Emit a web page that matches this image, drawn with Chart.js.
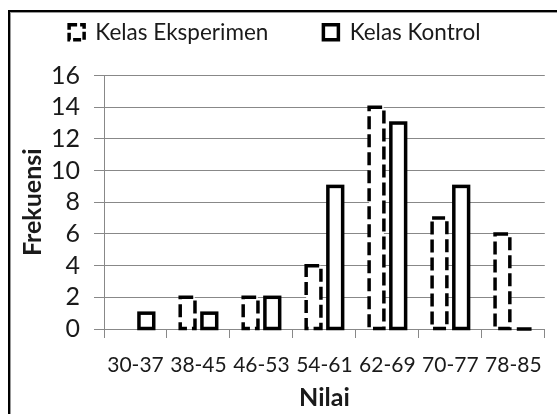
<!DOCTYPE html>
<html>
<head>
<meta charset="utf-8">
<script src="https://cdn.jsdelivr.net/npm/chart.js@4/dist/chart.umd.min.js"></script>
<style>
  html, body { margin: 0; padding: 0; background: #fff; }
  #wrap { position: relative; width: 557px; height: 414px; overflow: hidden; }
  #frame { position: absolute; left: 8px; top: 10px; width: 600px; height: 500px; border: 2px solid #000; box-shadow: inset 1px 1px 0 #999; pointer-events: none; }
  canvas { position: absolute; left: 0; top: 0; }
</style>
</head>
<body>
<div id="wrap">
  <canvas id="barChart" width="557" height="414"></canvas>
  <div id="frame"></div>
</div>
<script>
const categories = ['30-37', '38-45', '46-53', '54-61', '62-69', '70-77', '78-85'];
const eksperimen = [0, 2, 2, 4, 14, 7, 6];
const kontrol = [1, 1, 2, 9, 13, 9, 0];
const yTicks = [0, 2, 4, 6, 8, 10, 12, 14, 16];

Chart.defaults.font.family = 'Lato';
Chart.defaults.color = '#1a1a1a';

// bars are drawn white, then outlined here (bar elements have no dashed border)
const barOutline = {
    id: 'barOutline',
    afterDatasetsDraw(chart) {
        const ctx = chart.ctx;
        chart.data.datasets.forEach((ds, i) => {
            const meta = chart.getDatasetMeta(i);
            meta.data.forEach((bar, j) => {
                if (ds.outlineDash.length && ds.data[j] === 0) return;
                const { x, y, base, width } = bar.getProps(['x', 'y', 'base', 'width'], true);
                ctx.save();
                ctx.strokeStyle = '#000';
                ctx.lineWidth = 3.5;
                ctx.setLineDash(ds.outlineDash);
                ctx.strokeRect(x - width / 2, y, width, base - y);
                ctx.restore();
            });
        });
    }
};

// extra room under the legend
const legendGap = {
    id: 'legendGap',
    afterInit(chart) {
        const fit = chart.legend.fit;
        chart.legend.fit = function () {
            fit.call(this);
            this.height += 22;
        };
    }
};

const ctx = document.getElementById('barChart').getContext('2d');

new Chart(ctx, {
    type: 'bar',
    data: {
        labels: categories,
        datasets: [{
            label: 'Kelas Eksperimen',
            data: eksperimen,
            backgroundColor: '#ffffff',
            borderWidth: 0,
            outlineDash: [13, 5]
        }, {
            label: 'Kelas Kontrol',
            data: kontrol,
            backgroundColor: '#ffffff',
            borderWidth: 0,
            outlineDash: []
        }]
    },
    options: {
        responsive: false,
        animation: false,
        categoryPercentage: 0.69,
        barPercentage: 0.68,
        layout: {
            padding: { left: 10, right: 6, top: 11, bottom: 0 }
        },
        plugins: {
            legend: {
                position: 'top',
                labels: {
                    font: { size: 22.5 },
                    color: '#1a1a1a',
                    boxWidth: 15,
                    boxHeight: 15,
                    padding: 10,
                    generateLabels(chart) {
                        return chart.data.datasets.map((ds, i) => ({
                            text: ds.label + (i === 0 ? '\u2003\u2003\u2002' : '\u2002'),
                            fillStyle: '#ffffff',
                            strokeStyle: '#000000',
                            lineWidth: 3.5,
                            lineDash: ds.outlineDash.length ? [8, 3] : [],
                            hidden: false,
                            datasetIndex: i,
                            fontColor: '#1a1a1a'
                        }));
                    }
                }
            },
            tooltip: { enabled: false }
        },
        scales: {
            y: {
                min: 0,
                max: 16,
                afterBuildTicks: s => { s.ticks = yTicks.map(v => ({ value: v })); },
                afterFit: s => { s.width = 94; },
                border: { display: true, color: '#888' },
                grid: { color: '#888', tickLength: 10 },
                ticks: { font: { size: 25 }, color: '#1a1a1a', padding: 14, autoSkip: false },
                title: {
                    display: true,
                    text: 'Frekuensi',
                    font: { size: 25, weight: 'bold' },
                    color: '#1a1a1a',
                    padding: { top: 8, bottom: 0 }
                }
            },
            x: {
                afterFit: s => { s.height = 85; },
                border: { display: true, color: '#888' },
                grid: { display: true, drawOnChartArea: false, tickLength: 9, color: '#888', offset: true },
                ticks: { font: { size: 21 }, color: '#1a1a1a', padding: 15, maxRotation: 0, autoSkip: false },
                title: {
                    display: true,
                    text: 'Nilai',
                    font: { size: 25, weight: 'bold' },
                    color: '#1a1a1a',
                    padding: { top: 0, bottom: 1 }
                }
            }
        }
    },
    plugins: [barOutline, legendGap]
});
</script>
</body>
</html>
